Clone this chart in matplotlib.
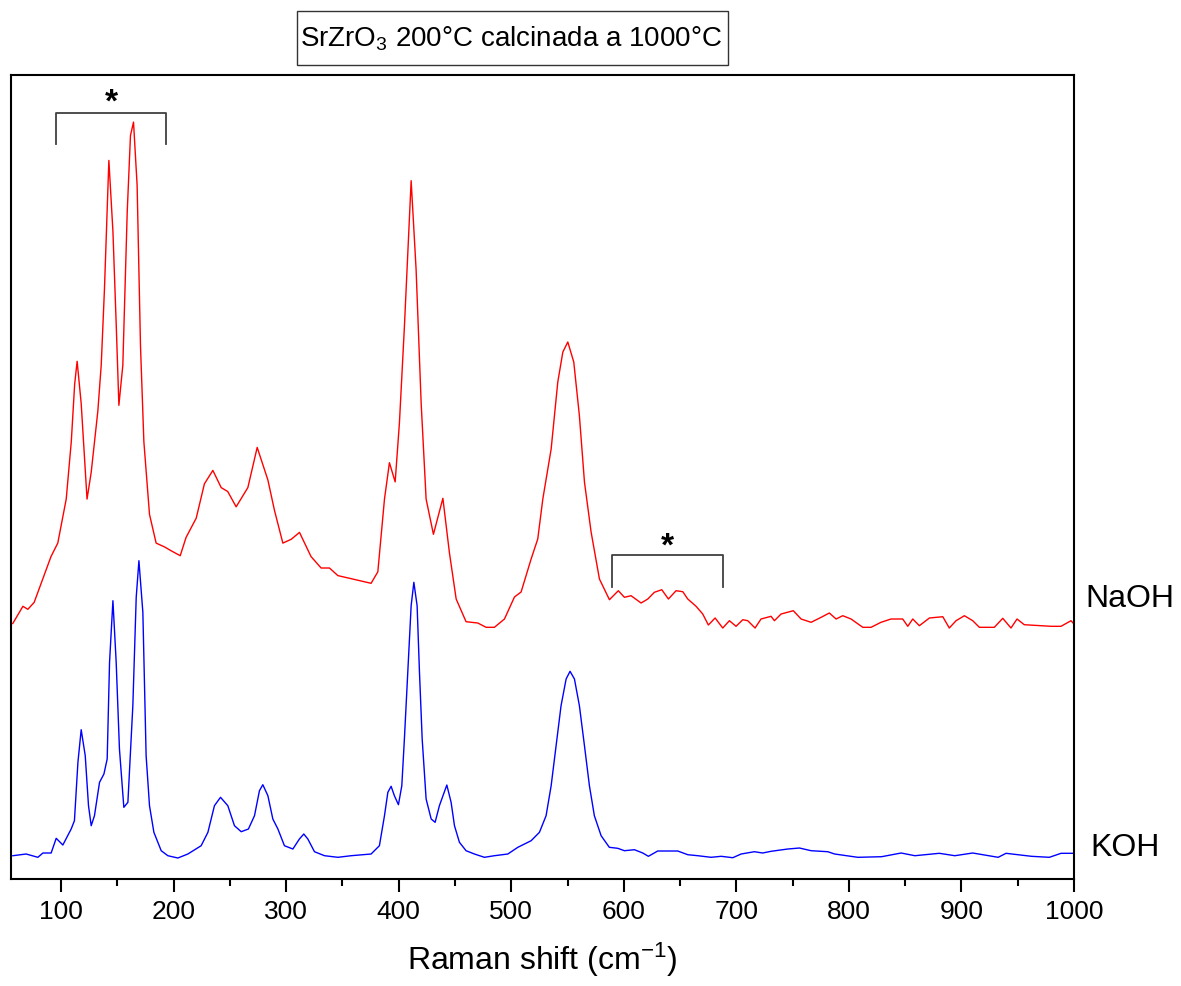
import matplotlib
matplotlib.use("Agg")
import matplotlib.pyplot as plt
from matplotlib.ticker import MultipleLocator
from matplotlib.patches import Rectangle

plt.rcParams['font.family'] = ['Liberation Sans', 'DejaVu Sans']
plt.rcParams['mathtext.fontset'] = 'custom'
plt.rcParams['mathtext.rm'] = 'Liberation Sans'
plt.rcParams['mathtext.it'] = 'Liberation Sans:italic'

# Raman spectra (intensity in arbitrary units, offset stacked)
naoh_shift = [57, 66, 70.4, 76, 91, 97, 104.5, 109, 112, 114.2, 117.8, 123, 126.7, 132.6,
              135.6, 138.5, 142.4, 146, 149, 151.3, 154.8, 158.7, 161.6, 164.3, 167.5,
              170.5, 173.5, 178.5, 184.4, 191.8, 197.8, 205.8, 211, 220, 227.3, 234.8,
              242.2, 248, 255.5, 265.9, 274.2, 283.7, 289.6, 297, 304.4, 311.8, 322, 331,
              338.4, 345.9, 357.7, 368, 375.4, 381.4, 387.3, 391.7, 396.8, 400.6, 405,
              411, 415.4, 419.9, 424.3, 430.8, 439.2, 445, 451, 459.8, 470.2, 477.6, 485,
              493.9, 502.8, 508.7, 517.6, 523.5, 528, 535.4, 541.3, 545.8, 550.2, 555.5,
              560.5, 565, 570.9, 578.3, 587.2, 595.1, 600.5, 606.4, 615.3, 621.3, 627.1,
              633.7, 639.6, 646.4, 652.4, 656.8, 664.2, 670.1, 675.1, 681.1, 687.9, 693.8,
              699.7, 705.7, 710.1, 716.6, 721.9, 730.8, 733.8, 739.7, 750.6, 757.5, 766.4,
              775.3, 782.6, 788.6, 794.5, 801.9, 812.3, 819.7, 828.5, 837.4, 847.8, 852.3,
              856.7, 862.6, 871.5, 883.4, 889.2, 895.2, 902.6, 910, 915.9, 929.2, 936.7,
              944, 949.4, 955.8, 979.6, 988.5, 997.3, 1000]
naoh_int = [255.5, 272.7, 269.7, 276.6, 322.5, 335.9, 379.9, 437.3, 494.7, 517.7, 475.6,
            379.9, 406.7, 467.9, 513.8, 590.4, 718.6, 647.8, 552.1, 473.7, 513.8, 666.9,
            743.5, 756.9, 693.7, 533, 437.3, 364.6, 335.9, 332.1, 328.2, 323.3, 341.6,
            360.8, 395.2, 408.6, 391.4, 387.5, 372.2, 391.4, 431.6, 399, 368.4, 335.9,
            339.7, 346.6, 322.5, 311, 311, 303.4, 300.3, 297.6, 295.7, 307.2, 379.9,
            416.3, 397.1, 456.4, 552.1, 698.3, 609.5, 475.6, 379.9, 344.7, 380.7, 326.3,
            280, 257.3, 256, 251.7, 251.7, 260, 282, 287, 320, 340, 380, 430, 497, 527,
            537, 517, 463.3, 397, 347, 300, 279.3, 288.3, 281.7, 283.3, 276, 280, 286.7,
            289.3, 280, 288.3, 287.3, 280, 272.7, 265, 254, 261, 251, 258.3, 252.7, 259.3,
            258.3, 251, 260, 262.7, 258.3, 265, 268.3, 260, 256.7, 261.7, 266, 260, 263.3,
            260, 251.7, 251.7, 256.7, 260, 260, 252.7, 260, 253.3, 261, 262.3, 251, 258.3,
            263.3, 258.3, 251.7, 251.7, 260.7, 251, 260, 254.3, 252.7, 252.7, 258.3, 255]

koh_shift = [57.1, 68.9, 79.3, 83.8, 91.1, 95.6, 101.5, 108.9, 111.8, 114.9, 117.8, 121.4,
             124.3, 126.7, 129.6, 134.1, 138, 140.9, 143, 146, 148.9, 151.8, 155.7, 159.3,
             163.7, 166.7, 169.1, 172.6, 175.5, 178.5, 182.4, 188.9, 194.8, 203.7, 212.6,
             224.4, 230.4, 236.2, 241.6, 248.1, 254, 260, 266.4, 271.8, 276.2, 279.2,
             283.7, 288.1, 292.6, 298.4, 305.9, 311.7, 315.6, 319.2, 325.1, 334, 345.9,
             357.7, 375.4, 382.8, 387.3, 390.3, 393.2, 396.1, 399.7, 402.7, 405, 408, 411,
             413.4, 416.3, 418.4, 420.8, 424.3, 428.8, 432.3, 436.1, 442.7, 446.5, 449.5,
             453.9, 459.8, 467.2, 476.1, 485, 496.9, 505.8, 517.6, 525, 530.9, 535.4,
             539.8, 544.2, 548.7, 552.2, 556.1, 560.5, 565, 569.4, 573.8, 579.8, 587.1,
             594.6, 600.5, 609.4, 616.8, 621.8, 630.1, 647.9, 656.8, 665.7, 677.5, 686.5,
             696.8, 704.2, 716, 723.3, 730.8, 745.7, 756, 766.4, 781.2, 787.3, 807.9, 829,
             846.4, 858.6, 880.3, 894.1, 910, 932.6, 939.6, 962.2, 978.1, 988.5, 1000]
koh_int = [23.3, 25, 21.7, 26, 26, 40.7, 34, 50, 58.3, 116.7, 149.3, 123.3, 73.3, 53.3,
           63.3, 96.7, 105, 120, 216.7, 278.3, 216.7, 130, 71.7, 76.7, 173.3, 281.7, 318.3,
           266.7, 123.3, 73.3, 46.7, 28.3, 23.3, 21, 25, 33.3, 46.7, 73.3, 81.7, 73.3,
           53.3, 47.3, 50, 63.3, 88.3, 94.3, 83.3, 60, 50, 33.3, 30, 40, 45, 40, 27.3,
           23.3, 21.7, 23.3, 25, 33.3, 63.3, 86.7, 92.7, 83.3, 74.3, 93.3, 140, 206.7,
           273.3, 296.7, 273.3, 206.7, 140, 80, 60, 56.7, 73.3, 94, 76.7, 53.3, 36.7, 28.3,
           25, 21.7, 23.3, 25, 31.7, 38.3, 46.7, 63.3, 93.3, 133.3, 173.3, 200, 207.7, 200,
           173.3, 133.3, 93.3, 63.3, 43.3, 31.7, 30.7, 28.3, 29.3, 26, 22.7, 28, 28, 24.3,
           23.3, 21.7, 22.7, 21.3, 25, 27.3, 26, 27.7, 30, 31, 28.3, 27.3, 25, 21.7, 22.3,
           26, 23.3, 25.7, 23.3, 26, 21.7, 25.7, 22.7, 21.7, 25.7, 25.7]

fig = plt.figure(figsize=(11.81, 9.87), dpi=100)
ax = fig.add_axes([0.0089, 0.1084, 0.9005, 0.8146])

ax.plot(naoh_shift, naoh_int, color='#ff0000', lw=1.0)
ax.plot(koh_shift, koh_int, color='#0000ff', lw=1.0)

ax.set_xlim(55, 1000)
ax.set_ylim(0, 804)
ax.xaxis.set_major_locator(MultipleLocator(100))
ax.xaxis.set_minor_locator(MultipleLocator(50))
ax.set_yticks([])
ax.tick_params(axis='x', which='major', direction='out', length=9.5, width=1.5,
               labelsize=19, pad=5)
ax.tick_params(axis='x', which='minor', direction='out', length=5, width=1.5)
for sp in ax.spines.values():
    sp.set_linewidth(1.5)

ax.set_xlabel(r'Raman shift (cm$^{\mathregular{-1}}$)', fontsize=23, labelpad=12)

# sample labels on the right
ax.text(1.0103, 281, 'NaOH', transform=ax.get_yaxis_transform(), fontsize=23,
        ha='left', va='center', clip_on=False)
ax.text(1.0151, 32, 'KOH', transform=ax.get_yaxis_transform(), fontsize=23,
        ha='left', va='center', clip_on=False)

# brackets with asterisks
ax.plot([95, 95, 193, 193], [735, 766, 766, 735], color='#404040', lw=1.3)
ax.text(144.5, 768, '*', fontsize=24, fontweight='bold', ha='center', va='baseline')
ax.plot([589.5, 589.5, 688, 688], [292, 324, 324, 292], color='#404040', lw=1.3)
ax.text(639, 324, '*', fontsize=24, fontweight='bold', ha='center', va='baseline')

# title box
fig.patches.append(Rectangle((297 / 1181, 1 - 66 / 987), 431 / 1181, 54 / 987,
                             transform=fig.transFigure, fill=False, ec='#333333', lw=1.0))
fig.text(511 / 1181, 1 - 46.7 / 987, r'SrZrO$_3$ 200°C calcinada a 1000°C',
         fontsize=20, ha='center', va='baseline')

plt.savefig("out.png", dpi=100)
